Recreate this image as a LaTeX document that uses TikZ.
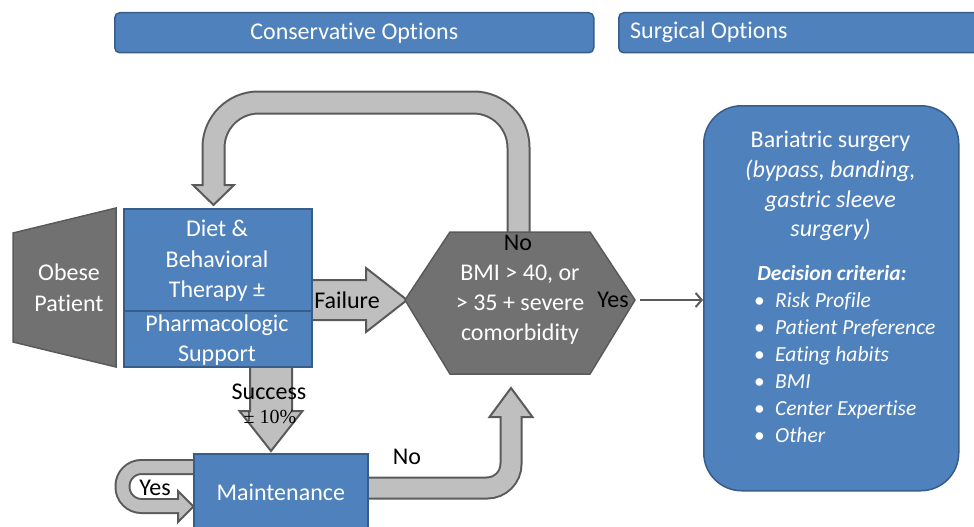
\documentclass[tikz,border=0pt]{standalone}
\usepackage{fontspec}
\setmainfont{Carlito}[Ligatures=NoCommon]
\newfontfamily\serifnum{Liberation Serif}
\usetikzlibrary{arrows.meta}
\definecolor{boxblue}{HTML}{4F81BD}
\definecolor{boxedge}{HTML}{385D8A}
\definecolor{hexgray}{HTML}{717171}
\definecolor{arrgray}{HTML}{BFBFBF}
\definecolor{arredge}{HTML}{5A5A5A}
\begin{document}
\begin{tikzpicture}[x=1pt,y=-1pt,
  bluebox/.style={draw=boxedge, fill=boxblue, line width=1.5, text=white, inner sep=0},
  txt/.style={font=\fontsize{24}{30.5}\selectfont, text=white, align=center, inner sep=0},
  lbl/.style={font=\fontsize{24}{28}\selectfont, text=black, inner sep=0},
  shaftout/.style={draw=arredge, line width=#1},
  shaftin/.style={draw=arrgray, line width=#1},
  headpoly/.style={fill=arrgray, draw=arredge, line width=2, line join=miter},
  graybody/.style={fill=hexgray, draw=arredge, line width=1.5}
]
\clip (0,0) rectangle (974,527);

% headers
\node[bluebox, rounded corners=5, minimum width=479, minimum height=40, anchor=north west,
      font=\fontsize{24}{28}\selectfont] (cons) at (114,12) {Conservative Options};
\node[bluebox, rounded corners=5, minimum width=362, minimum height=40, anchor=north west] (surg) at (618,12) {};
\node[font=\fontsize{24}{28}\selectfont, text=white, anchor=west, inner sep=0] (surgt) at (630,32) {Surgical Options};

% coordinates for block arrows
\coordinate (loopA) at (518.5,240);
\coordinate (loopB) at (518.5,102.5);
\coordinate (loopC) at (213.5,102.5);
\coordinate (loopD) at (213.5,186);
\coordinate (loopE) at (213.5,189);

% top loop arrow (No -> back to diet)
\draw[shaftout=24, rounded corners=45] (loopA) -- (loopB) -- (loopC) -- (loopD);
\draw[headpoly] (193,185) -- (213.5,205) -- (234,185) -- cycle;
\draw[shaftin=20, rounded corners=45] (loopA) -- (loopB) -- (loopC) -- (loopE);

% failure arrow
\draw[headpoly] (305,280) -- (366,280) -- (366,268) -- (407,300) -- (366,332) -- (366,320) -- (305,320) -- cycle;

% success arrow
\draw[headpoly] (250,360) -- (250,411) -- (239.5,411) -- (271,451) -- (302.5,411) -- (292,411) -- (292,360) -- cycle;

% bottom No arrow
\draw[shaftout=23, rounded corners=24] (360,488) -- (511,488) -- (511,418);
\draw[headpoly] (489.5,417) -- (511,388) -- (532.5,417) -- cycle;
\draw[shaftin=19, rounded corners=24] (360,488) -- (511,488) -- (511,414);

% Yes loop arrow
\draw[shaftout=16, rounded corners=19] (200,467) -- (122.5,467) -- (122.5,506) -- (179,506);
\draw[headpoly] (178,491) -- (193.5,506.5) -- (178,522) -- cycle;
\draw[shaftin=12, rounded corners=19] (200,467) -- (122.5,467) -- (122.5,506) -- (181,506);

% Obese patient trapezoid
\draw[graybody] (13,233) -- (116,208) -- (116,367) -- (13,342) -- cycle;
\node[txt] (obese) at (69,288) {Obese\\Patient};

% Diet box
\node[bluebox, minimum width=188, minimum height=158, anchor=north west] (diet) at (123,208) {};
\draw[boxedge, line width=1.5] (123,311) -- (311,311);
\node[txt] (diett) at (217,261) {Diet \&\\Behavioral\\Therapy ±};
\node[txt] (pharm) at (217,340) {Pharmacologic\\Support};

% Hexagon decision
\draw[graybody] (405,300) -- (450,232) -- (590,232) -- (635,300) -- (590,374) -- (450,374) -- cycle;
\node[txt, font=\fontsize{24}{30}\selectfont] (bmi) at (520,305) {BMI > 40, or\\> 35 + severe\\comorbidity};

% Maintenance box
\node[bluebox, minimum width=174, minimum height=78, anchor=north west,
      font=\fontsize{24}{28}\selectfont] (maint) at (193,453) {Maintenance};

% Bariatric surgery box
\node[bluebox, rounded corners=38, minimum width=255, minimum height=385, anchor=north west] (bar) at (703,105) {};
\node[txt, font=\fontsize{24}{29.7}\selectfont] (bart) at (830.5,186) {Bariatric surgery\\\textit{(bypass, banding,}\\\textit{gastric sleeve}\\\textit{surgery)}};
\node[font=\fontsize{21.5}{27}\selectfont\bfseries\itshape, text=white, inner sep=0] (crit) at (832,273) {Decision criteria:};
\node[font=\fontsize{21.5}{27}\selectfont\itshape, text=white, align=left, anchor=west, inner sep=0] (list) at (754,368)
  {\makebox[21pt][l]{\upshape •}Risk Profile\\
   \makebox[21pt][l]{\upshape •}Patient Preference\\
   \makebox[21pt][l]{\upshape •}Eating habits\\
   \makebox[21pt][l]{\upshape •}BMI\\
   \makebox[21pt][l]{\upshape •}Center Expertise\\
   \makebox[21pt][l]{\upshape •}Other};

% Yes connector to surgery
\coordinate (yesstart) at (640,300);
\draw[arredge, line width=2, -{Straight Barb[length=6,width=14,line width=2]}] (yesstart) -- (bar.west |- yesstart);

% labels
\node[lbl] (lno1) at (518,243) {No};
\node[lbl] (lyes1) at (613,300) {Yes};
\node[lbl] (lfail) at (347,300) {Failure};
\node[lbl] (lsucc) at (269,392) {Success};
\node[font=\fontsize{20}{22}\selectfont\serifnum, text=black, inner sep=0] (lpct) at (270,417) {± 10\%};
\node[lbl] (lno2) at (407,457) {No};
\node[lbl] (lyes2) at (155,488) {Yes};
\end{tikzpicture}
\end{document}
